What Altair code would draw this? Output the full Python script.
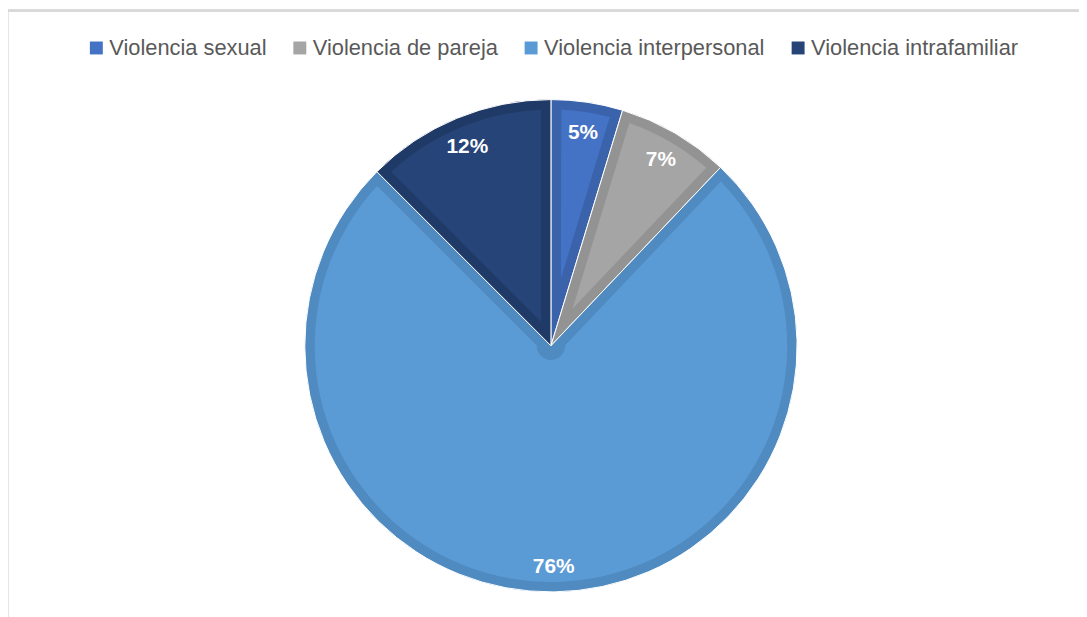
import altair as alt
import pandas as pd
import numpy as np

categories = ["Violencia sexual", "Violencia de pareja", "Violencia interpersonal", "Violencia intrafamiliar"]
values = [4.7, 7.4, 75.4, 12.5]
labels = ["5%", "7%", "76%", "12%"]
fill_colors = ["#4472C4", "#A5A5A5", "#5B9BD5", "#264478"]
edge_colors = ["#3A63AC", "#939393", "#4F8AC0", "#203A67"]

R_OUT = 248      # outer radius of the pie
BAND = 10        # width of the darker inner border
R_IN = R_OUT - BAND

df = pd.DataFrame({
    "cat": categories,
    "value": values,
    "label": labels,
    "edge": edge_colors,
    "idx": list(range(len(categories))),
})
# inner apex distance so that the lighter face is inset evenly along radial edges
half_angle = np.array(values) / sum(values) * np.pi
df["r0"] = BAND / np.abs(np.sin(half_angle))
df["r1"] = R_IN

W, H = 1075, 605
CX, CY = 543, 334

base = alt.Chart(df).encode(
    theta=alt.Theta("value:Q", stack=True),
    order=alt.Order("idx:Q"),
    x=alt.value(CX),
    y=alt.value(CY),
)

outer = base.mark_arc(radius=R_OUT, stroke="white", strokeWidth=1).encode(
    fill=alt.Fill("edge:N", scale=None, legend=None)
)

inner = base.mark_arc(padAngle=2 * BAND / R_IN).encode(
    radius=alt.Radius("r1:Q", scale=None),
    radius2=alt.Radius2("r0:Q"),
    color=alt.Color(
        "cat:N",
        scale=alt.Scale(domain=categories, range=fill_colors),
        sort=categories,
        legend=alt.Legend(
            title=None,
            orient="none",
            legendX=74,
            legendY=23,
            direction="horizontal",
            symbolType="square",
            symbolSize=170,
            symbolStrokeWidth=0,
            labelFontSize=22,
            labelFont="Liberation Sans",
            labelColor="#595959",
            labelOffset=2,
            columnPadding=22,
            labelLimit=400,
        ),
    ),
)

text = base.mark_text(
    radius=220, dy=3, font="Liberation Sans", fontSize=21, fontWeight="bold", color="white"
).encode(text="label:N")

border_top = alt.Chart(df).mark_rule(color="#D9D9D9", strokeWidth=2.5).encode(
    x=alt.value(-6), x2=alt.value(W + 20), y=alt.value(-3.5)
)
border_left = alt.Chart(df).mark_rule(color="#D9D9D9", strokeWidth=2.5).encode(
    x=alt.value(-5), y=alt.value(-4), y2=alt.value(H + 20)
)

chart = alt.layer(border_top, border_left, outer, inner, text).properties(
    width=W, height=H,
    padding={"left": 4, "top": 4, "right": 0, "bottom": 0},
    autosize="none",
).configure_view(stroke=None)

chart.save("out.html", embed_options={"renderer": "svg", "actions": False})
